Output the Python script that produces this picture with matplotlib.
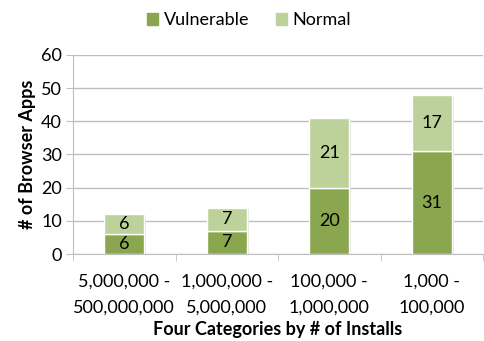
import numpy as np
import matplotlib.pyplot as plt
from matplotlib.patches import Patch

categories = ["5,000,000 -\n500,000,000", "1,000,000 -\n5,000,000",
              "100,000 -\n1,000,000", "1,000 -\n100,000"]
vulnerable = [6, 7, 20, 31]
normal = [6, 7, 21, 17]

c_vul = "#8aa64e"
c_norm = "#bcd29a"
grid_c = "#bfbfbf"

plt.rcParams['font.family'] = ['Lato', 'DejaVu Sans']
fs = 13

fig = plt.figure(figsize=(4.84, 3.41), dpi=100)
ax = fig.add_axes([0.151, 0.255, 0.847, 0.584])

x = np.arange(len(categories))
w = 0.39
# light shadow
ax.bar(x + 0.02, np.array(vulnerable) + np.array(normal), w, bottom=-0.3,
       color="#e3e3e3", zorder=1, linewidth=0)
ax.bar(x, vulnerable, w, color=c_vul, edgecolor="white", linewidth=1, zorder=2)
ax.bar(x, normal, w, bottom=vulnerable, color=c_norm, edgecolor="white",
       linewidth=1, zorder=2)

for i in range(len(x)):
    ax.text(x[i], vulnerable[i] / 2, str(vulnerable[i]), ha="center",
            va="center", fontsize=fs, zorder=3)
    ax.text(x[i], vulnerable[i] + normal[i] / 2, str(normal[i]), ha="center",
            va="center", fontsize=fs, zorder=3)

ax.set_xlim(-0.5, 3.5)
ax.set_ylim(0, 60)
ax.set_yticks(range(0, 61, 10))
ax.yaxis.grid(True, color=grid_c, linewidth=1)
ax.set_axisbelow(True)

ax.set_xticks(x)
ax.set_xticklabels(categories, fontsize=fs, linespacing=1.75)
ax.set_xticks(np.arange(-0.5, 3.6, 1), minor=True)
ax.tick_params(axis="x", which="major", length=0, pad=14)
ax.tick_params(axis="x", which="minor", length=5, color=grid_c)
ax.tick_params(axis="y", length=5, color=grid_c, labelsize=fs, pad=3)

for s in ["top", "right"]:
    ax.spines[s].set_visible(False)
ax.spines["left"].set_color(grid_c)
ax.spines["bottom"].set_color(grid_c)

ax.set_ylabel("# of Browser Apps", fontsize=fs, fontweight="bold", labelpad=4)
ax.set_xlabel("Four Categories by # of Installs", fontsize=fs,
              fontweight="bold", va="center")
ax.xaxis.set_label_coords(0.5, -0.38)

handles = [Patch(color=c_vul, label="Vulnerable"),
           Patch(color=c_norm, label="Normal")]
fig.legend(handles=handles, loc="center", bbox_to_anchor=(0.515, 0.94),
           ncol=2, frameon=False, fontsize=fs, handlelength=0.6,
           handleheight=0.6, handletextpad=0.3, columnspacing=1.5)

fig.savefig("out.png", dpi=100)
